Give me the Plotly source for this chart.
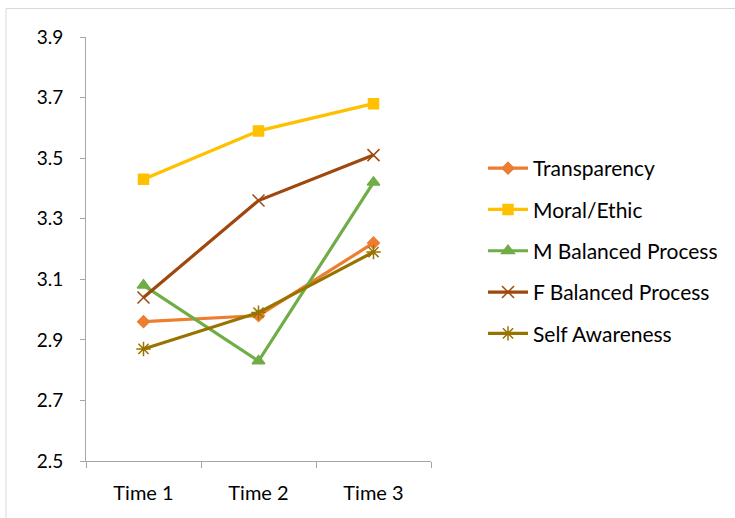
import plotly.graph_objects as go

# Category labels and mean scores per dimension
times = ["Time 1", "Time 2", "Time 3"]
transparency = [2.96, 2.98, 3.22]
moral_ethic = [3.43, 3.59, 3.68]
m_balanced = [3.08, 2.83, 3.42]
f_balanced = [3.04, 3.36, 3.51]
self_awareness = [2.87, 2.99, 3.19]

series = [
    ("Transparency", transparency, "#ED7D31", "diamond", 9),
    ("Moral/Ethic", moral_ethic, "#FFC000", "square", 10),
    ("M Balanced Process", m_balanced, "#70AD47", "triangle-up", 11),
    ("F Balanced Process", f_balanced, "#9E480E", "x-thin-open", 12),
    ("Self Awareness", self_awareness, "#997300", "asterisk-open", 12),
]

FONT = "Lato"

fig = go.Figure()
for i, (name, vals, color, symbol, size) in enumerate(series):
    fig.add_trace(go.Scatter(
        x=times, y=vals, name=name, mode="lines+markers",
        legendgroup=f"g{i}",
        line=dict(color=color, width=3.2),
        marker=dict(symbol=symbol, size=size, color=color,
                    line=dict(color=color, width=1.5)),
    ))

# Plot area spans x 86..431 px and y 37..461 px of the 735x518 canvas
L, R, T, B = 86, 431, 37, 461
W, H = 735, 518
pw, ph = R - L, B - T

def px(xp):
    return (xp - L) / pw

def py(yp):
    return (B - yp) / ph

border = "#D9D9D9"
shapes = [
    dict(type="line", xref="paper", yref="paper",
         x0=px(6), x1=px(W), y0=py(8.5), y1=py(8.5),
         line=dict(color=border, width=1)),
    dict(type="line", xref="paper", yref="paper",
         x0=px(6), x1=px(6), y0=py(8.5), y1=py(H),
         line=dict(color=border, width=1)),
]

axis_gray = "#A6A6A6"
fig.update_layout(
    width=W, height=H,
    margin=dict(l=L, r=W - R, t=T, b=H - B),
    paper_bgcolor="white", plot_bgcolor="white",
    font=dict(family=FONT, size=20, color="#000000"),
    showlegend=True,
    legend=dict(
        x=px(483), xanchor="left", y=py(251), yanchor="middle",
        font=dict(family=FONT, size=21, color="#000000"),
        tracegroupgap=11, itemwidth=40,
        bgcolor="rgba(0,0,0,0)",
    ),
    xaxis=dict(
        type="category", tickson="boundaries",
        range=[-0.5, 2.5],
        showgrid=False, zeroline=False,
        showline=True, linecolor=axis_gray, linewidth=1,
        ticks="outside", ticklen=6, tickcolor=axis_gray,
        ticklabelstandoff=14,
        tickfont=dict(family=FONT, size=20),
    ),
    yaxis=dict(
        range=[2.5, 3.9], dtick=0.2, tick0=2.5, tickformat=".1f",
        showgrid=False, zeroline=False,
        showline=True, linecolor=axis_gray, linewidth=1,
        ticks="outside", ticklen=5, tickcolor=axis_gray,
        ticklabelstandoff=13,
        tickfont=dict(family=FONT, size=19),
    ),
    shapes=shapes,
)

fig.write_html("out.html")
